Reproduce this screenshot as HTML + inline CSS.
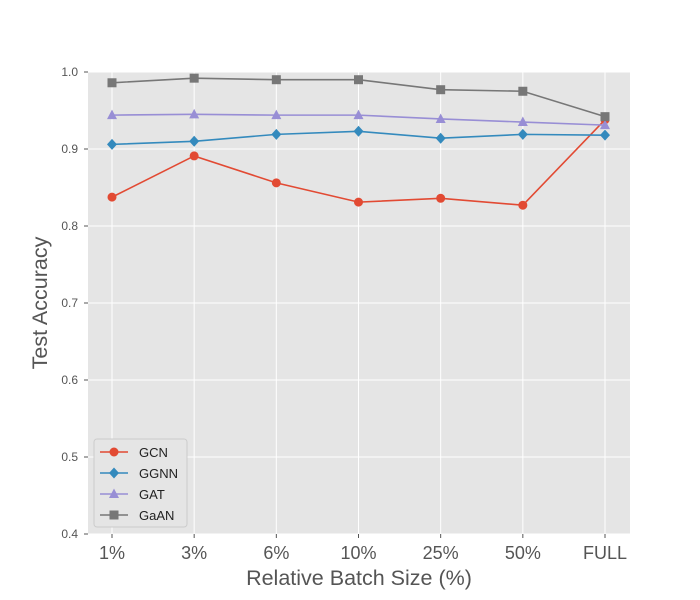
<!DOCTYPE html>
<html><head><meta charset="utf-8"><style>
body{margin:0;background:#fff}
svg{display:block;font-family:"Liberation Sans","DejaVu Sans",sans-serif}
</style></head><body>
<svg id="chart" width="700" height="600"></svg>
<script>
const categories=["1%","3%","6%","10%","25%","50%","FULL"];
const gcn=[0.8375,0.891,0.856,0.831,0.836,0.827,0.938];
const ggnn=[0.906,0.910,0.919,0.923,0.914,0.919,0.918];
const gat=[0.944,0.945,0.944,0.944,0.939,0.935,0.931];
const gaan=[0.986,0.992,0.990,0.990,0.977,0.975,0.942];
const yTicks=[0.4,0.5,0.6,0.7,0.8,0.9,1.0];
const seriesNames=["GCN","GGNN","GAT","GaAN"];

const NS="http://www.w3.org/2000/svg";
const svg=document.getElementById("chart");
const L=88,R=630,T=72,B=534;
const yMin=0.4,yMax=1.0;
function yS(v){return B-(v-yMin)/(yMax-yMin)*(B-T);}
function xS(i){return 112+i*(605-112)/(categories.length-1);}
function mk(tag,attrs,parent){const e=document.createElementNS(NS,tag);for(const k in attrs)e.setAttribute(k,attrs[k]);(parent||svg).appendChild(e);return e;}

const bg=mk("rect",{x:L,y:T,width:R-L,height:B-T,fill:"#E5E5E5"});



yTicks.forEach(v=>{
  const g=mk("line",{x1:L,x2:R,y1:yS(v),y2:yS(v),stroke:"#fff","stroke-width":1});
  
  
  const t=mk("text",{x:L-10,y:yS(v)+4,"text-anchor":"end","font-size":12,fill:"#555"});
  t.textContent=v.toFixed(1);
  
  
  mk("line",{x1:L-4,x2:L,y1:yS(v),y2:yS(v),stroke:"#555"});
});
categories.forEach((c,i)=>{
  const g=mk("line",{x1:xS(i),x2:xS(i),y1:T,y2:B,stroke:"#fff","stroke-width":1});
  
  
  mk("line",{x1:xS(i),x2:xS(i),y1:B,y2:B+4,stroke:"#555"});
  const t=mk("text",{x:xS(i),y:B+25,"text-anchor":"middle","font-size":18,fill:"#555"});
  t.textContent=c;
  
  
});

const xt=mk("text",{x:(L+R)/2,y:585,"text-anchor":"middle","font-size":21.5,fill:"#555"});
xt.textContent="Relative Batch Size (%)";


const yt=mk("text",{x:47,y:(T+B)/2,"text-anchor":"middle","font-size":21.5,fill:"#555",transform:"rotate(-90 47 "+((T+B)/2)+")"});
yt.textContent="Test Accuracy";



const colors=["#E24A33","#348ABD","#988ED5","#777777"];
const markers=["circle","diamond","triangle","square"];
function marker(type,x,y,color,parent){
  let e;
  if(type==="circle")e=mk("circle",{cx:x,cy:y,r:4.5,fill:color},parent);
  else if(type==="diamond")e=mk("polygon",{points:`${x},${y-5.5} ${x+5},${y} ${x},${y+5.5} ${x-5},${y}`,fill:color},parent);
  else if(type==="triangle")e=mk("polygon",{points:`${x},${y-5.5} ${x+5},${y+4} ${x-5},${y+4}`,fill:color},parent);
  else e=mk("rect",{x:x-4.5,y:y-4.5,width:9,height:9,fill:color},parent);
  return e;
}
[gcn,ggnn,gat,gaan].forEach((data,s)=>{
  const g=mk("g",{});
  
  
  const pl=mk("polyline",{points:data.map((v,i)=>xS(i)+","+yS(v)).join(" "),fill:"none",stroke:colors[s],"stroke-width":1.6},g);
  
  
  data.forEach((v,i)=>{
    const m=marker(markers[s],xS(i),yS(v),colors[s],g);
    
    
  });
});

const lg=mk("g",{});


mk("rect",{x:94,y:439,width:93,height:88,rx:3,fill:"#E5E5E5",stroke:"#ccc","stroke-width":1},lg);
seriesNames.forEach((n,s)=>{
  const y=452+s*21;
  const e=mk("g",{},lg);
  
  
  mk("line",{x1:100,x2:128,y1:y,y2:y,stroke:colors[s],"stroke-width":1.6},e);
  marker(markers[s],114,y,colors[s],e);
  const t=mk("text",{x:139,y:y+5,"font-size":13,fill:"#222"},e);
  t.textContent=n;
});
</script>
</body></html>
